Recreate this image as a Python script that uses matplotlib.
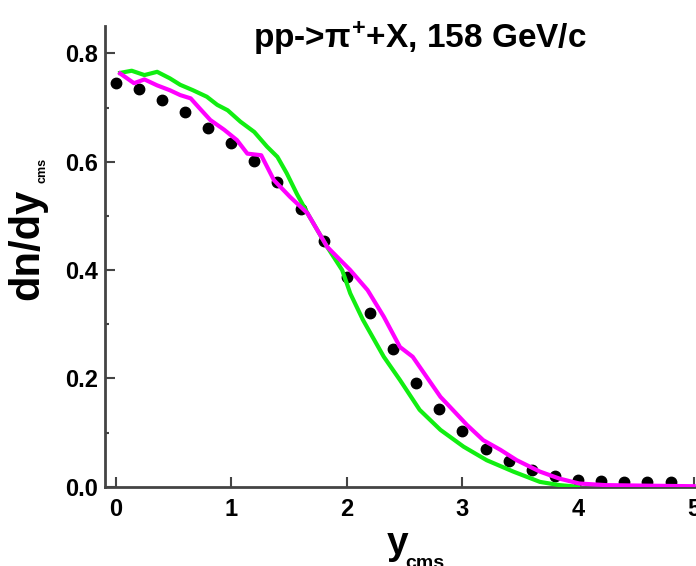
import numpy as np
import matplotlib.pyplot as plt
from matplotlib.ticker import MultipleLocator

plt.rcParams['font.family'] = ['Liberation Sans', 'DejaVu Sans']
plt.rcParams['font.weight'] = 'bold'
plt.rcParams['mathtext.fontset'] = 'custom'
plt.rcParams['mathtext.rm'] = 'Liberation Sans:bold'
plt.rcParams['mathtext.it'] = 'Liberation Sans'
plt.rcParams['mathtext.bf'] = 'Liberation Sans:bold'

# experimental points (black dots)
data_x = [0.0, 0.2, 0.4, 0.6, 0.8, 1.0, 1.2, 1.4, 1.6, 1.8, 2.0, 2.2, 2.4,
          2.6, 2.8, 3.0, 3.2, 3.4, 3.6, 3.8, 4.0, 4.2, 4.4, 4.6, 4.8]
data_y = [0.745, 0.734, 0.714, 0.692, 0.663, 0.634, 0.601, 0.563, 0.512, 0.454,
          0.387, 0.320, 0.254, 0.192, 0.143, 0.103, 0.070, 0.047, 0.031, 0.020,
          0.012, 0.010, 0.009, 0.009, 0.009]

# green model curve
green_x = [0.04, 0.14, 0.25, 0.36, 0.47, 0.56, 0.67, 0.79, 0.88, 0.97, 1.08, 1.20,
           1.31, 1.40, 1.48, 1.57, 1.66, 1.83, 1.96, 2.03, 2.14, 2.32, 2.46, 2.63,
           2.81, 3.01, 3.21, 3.44, 3.67, 3.84, 4.0]
green_y = [0.764, 0.768, 0.760, 0.766, 0.754, 0.742, 0.732, 0.720, 0.705, 0.695, 0.674, 0.655,
           0.628, 0.609, 0.579, 0.540, 0.505, 0.443, 0.400, 0.357, 0.308, 0.240, 0.197, 0.142,
           0.105, 0.074, 0.049, 0.028, 0.009, 0.003, 0.0]

# magenta model curve
magenta_x = [0.04, 0.16, 0.25, 0.36, 0.47, 0.56, 0.65, 0.73, 0.82, 0.94, 1.05, 1.14,
             1.26, 1.37, 1.51, 1.66, 1.83, 2.03, 2.18, 2.32, 2.46, 2.57, 2.69, 2.81,
             2.89, 3.04, 3.18, 3.33, 3.47, 3.67, 3.84, 4.01, 4.24, 4.6, 5.0]
magenta_y = [0.763, 0.745, 0.752, 0.741, 0.732, 0.723, 0.717, 0.698, 0.677, 0.659, 0.640, 0.615,
             0.612, 0.566, 0.535, 0.505, 0.443, 0.400, 0.363, 0.314, 0.258, 0.240, 0.203, 0.166,
             0.148, 0.114, 0.086, 0.068, 0.049, 0.028, 0.015, 0.006, 0.003, 0.002, 0.001]

fig = plt.figure(figsize=(6.96, 5.66), dpi=100)
ax = fig.add_axes([0.151, 0.140, 0.849, 0.8135])

ax.plot(data_x, data_y, 'o', color='black', markersize=7.5, zorder=2)
ax.plot(green_x, green_y, color='#11ee11', lw=3, zorder=3)
ax.plot(magenta_x, magenta_y, color='#ff00ff', lw=3, zorder=4)

ax.set_xlim(-0.09, 5.02)
ax.set_ylim(0, 0.85)
ax.xaxis.set_major_locator(MultipleLocator(1))
ax.yaxis.set_major_locator(MultipleLocator(0.2))
ax.yaxis.set_minor_locator(MultipleLocator(0.1))
ax.yaxis.set_major_formatter(plt.FormatStrFormatter('%.1f'))

for s in ['top', 'right']:
    ax.spines[s].set_visible(False)
for s in ['left', 'bottom']:
    ax.spines[s].set_linewidth(2)
    ax.spines[s].set_color('#444444')

ax.tick_params(which='major', direction='in', length=7, width=1.5, color='#444444',
               labelsize=17, pad=5)
ax.tick_params(which='minor', direction='in', length=3, width=1.5, color='#444444')
ax.tick_params(axis='x', pad=8)

# axis labels: main letters and small subscripts placed separately
fig.text(0.556, 0.022, 'y', fontsize=28, fontweight='bold', ha='left', va='baseline')
fig.text(0.582, -0.004, 'cms', fontsize=14, fontweight='bold', ha='left', va='baseline')
fig.text(0.0546, 0.470, 'dn/dy', fontsize=30, fontweight='bold', rotation=90,
         rotation_mode='anchor', ha='left', va='baseline')
fig.text(0.0647, 0.6767, 'cms', fontsize=9, fontweight='bold', rotation=90,
         rotation_mode='anchor', ha='left', va='baseline')

ax.text(0.533, 0.975, r'pp->$\pi^{+}$+X, 158 GeV/c', transform=ax.transAxes,
        fontsize=24, fontweight='bold', ha='center', va='center')

fig.savefig('out.png', dpi=100)
